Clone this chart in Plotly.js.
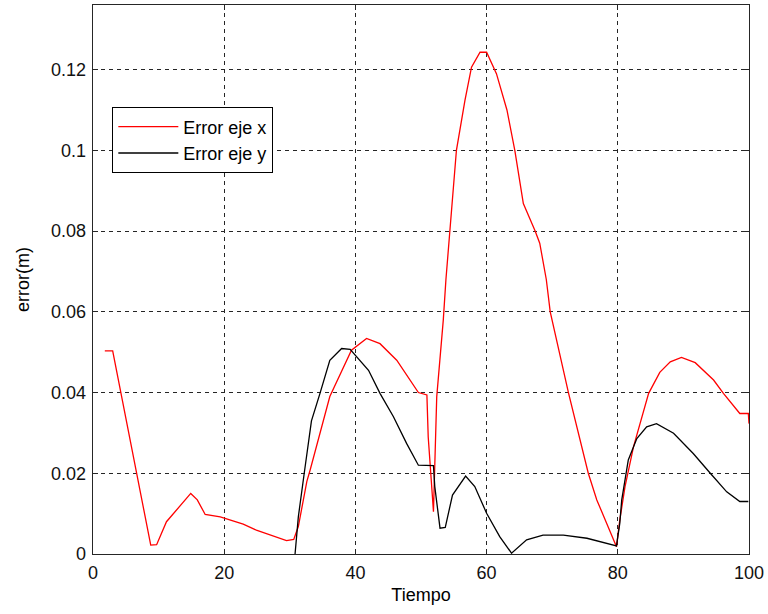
<!DOCTYPE html>
<html>
<head>
<meta charset="utf-8">
<script src="https://cdn.plot.ly/plotly-3.0.1.min.js"></script>
<style>html,body{margin:0;padding:0;background:#fff;}#chart{width:768px;height:614px;}</style>
</head>
<body>
<div id="chart"></div>
<script>
// Error eje x (red)
var xRed = [1.8, 3.0, 8.8, 9.7, 11.2, 14.9, 15.9, 17.1, 19.4, 22.9, 24.9, 29.5, 30.6, 31.3, 32.6, 33.1, 36.1, 39.4, 41.7, 43.75, 46.3, 49.6, 50.9, 51.1, 51.9, 52.1, 52.4, 53.4, 53.8, 54.4, 55.4, 56.7, 57.7, 59.0, 60.0, 61.5, 63.1, 64.3, 65.6, 67.4, 68.1, 69.1, 69.7, 72.5, 75.5, 76.8, 79.8, 80.3, 81.1, 82.4, 84.7, 86.4, 88.0, 89.7, 91.8, 94.6, 96.1, 98.6, 99.9, 100];
var yRed = [0.0503, 0.0503, 0.0022, 0.0023, 0.008, 0.015, 0.0134, 0.0098, 0.0092, 0.0074, 0.0059, 0.0033, 0.0036, 0.0068, 0.018, 0.0208, 0.039, 0.0505, 0.0534, 0.0521, 0.048, 0.040, 0.0394, 0.029, 0.0105, 0.020, 0.039, 0.058, 0.068, 0.080, 0.100, 0.1124, 0.1206, 0.1243, 0.1243, 0.119, 0.110, 0.100, 0.0868, 0.080, 0.077, 0.068, 0.060, 0.0398, 0.020, 0.0134, 0.0018, 0.0084, 0.0167, 0.0266, 0.0398, 0.045, 0.0476, 0.0487, 0.0474, 0.0431, 0.0398, 0.0348, 0.0348, 0.0323];
// Error eje y (black)
var xBlack = [30.8, 31.3, 32.2, 33.3, 34.6, 36.1, 37.9, 39.2, 42.0, 43.75, 45.8, 47.8, 49.6, 51.9, 52.1, 52.9, 53.7, 54.8, 56.8, 58.2, 60.0, 62.0, 63.8, 66.1, 68.6, 71.7, 75.3, 79.8, 80.3, 80.6, 81.6, 82.9, 84.4, 85.9, 88.5, 91.5, 94.1, 96.6, 98.6, 99.9];
var yBlack = [0.0, 0.0092, 0.020, 0.033, 0.0398, 0.048, 0.0509, 0.0507, 0.0455, 0.0398, 0.034, 0.0274, 0.022, 0.0219, 0.0167, 0.0064, 0.0066, 0.0146, 0.0193, 0.0167, 0.0101, 0.0043, 0.0002, 0.0035, 0.0047, 0.0047, 0.0039, 0.002, 0.0076, 0.0134, 0.0233, 0.0286, 0.0315, 0.0323, 0.0299, 0.0249, 0.020, 0.0154, 0.013, 0.013];

var xTicks = [0, 20, 40, 60, 80, 100];
var xTickText = ['0', '20', '40', '60', '80', '100'];
var yTicks = [0, 0.02, 0.04, 0.06, 0.08, 0.1, 0.12];
var yTickText = ['0', '0.02', '0.04', '0.06', '0.08', '0.1', '0.12'];
var seriesNames = ['Error eje x', 'Error eje y'];

var FONT = 'Liberation Sans, Arial, sans-serif';

var traces = [
  {x: xRed, y: yRed, type: 'scatter', mode: 'lines', name: seriesNames[0], line: {color: '#ff0000', width: 1.3}},
  {x: xBlack, y: yBlack, type: 'scatter', mode: 'lines', name: seriesNames[1], line: {color: '#000000', width: 1.3}}
];

var axCommon = {
  showline: true, linecolor: '#262626', linewidth: 1.3, mirror: 'ticks',
  ticks: 'inside', ticklen: 5, tickcolor: '#262626', tickwidth: 1,
  showgrid: true, gridcolor: '#262626', gridwidth: 1, griddash: '4px,4px',
  zeroline: false,
  tickfont: {family: FONT, size: 18, color: '#111'}
};

var layout = {
  width: 768, height: 614,
  margin: {l: 93, r: 19, t: 5, b: 60},
  paper_bgcolor: '#ffffff', plot_bgcolor: '#ffffff',
  showlegend: true,
  font: {family: FONT, color: '#000'},
  xaxis: Object.assign({}, axCommon, {
    range: [0, 100], tickmode: 'array', tickvals: xTicks, ticktext: xTickText,
    ticklabelstandoff: 2,
    title: {text: 'Tiempo', font: {family: FONT, size: 18, color: '#000'}, standoff: 6}
  }),
  yaxis: Object.assign({}, axCommon, {
    range: [0, 0.136], tickmode: 'array', tickvals: yTicks, ticktext: yTickText,
    ticklabelstandoff: 2,
    title: {text: 'error(m)', font: {family: FONT, size: 18, color: '#000'}, standoff: 16}
  }),
  legend: {
    x: 0.029, y: 0.814, xanchor: 'left', yanchor: 'top',
    bgcolor: '#ffffff', bordercolor: '#000000', borderwidth: 1.3,
    font: {family: FONT, size: 18, color: '#000'},
    tracegroupgap: 0, itemwidth: 60
  }
};

Plotly.newPlot('chart', traces, layout, {displayModeBar: false, staticPlot: true});
</script>
</body>
</html>
